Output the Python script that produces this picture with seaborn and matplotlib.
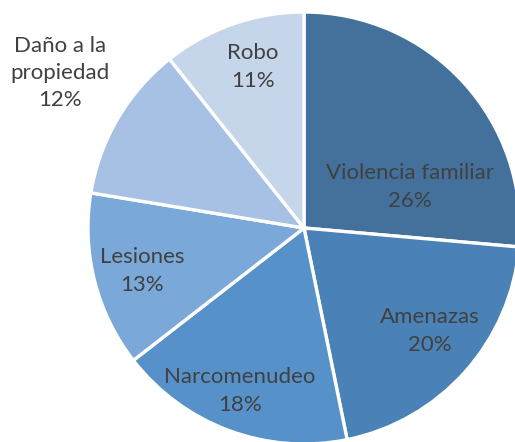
import matplotlib
matplotlib.use("Agg")
import matplotlib.pyplot as plt
import seaborn as sns

categories = ["Violencia familiar", "Amenazas", "Narcomenudeo", "Lesiones",
              "Daño a la\npropiedad", "Robo"]
values = [26.4, 20.4, 17.7, 13.1, 11.7, 10.7]
colors = ["#44719c", "#4a81b6", "#5692c9", "#7aa9d9", "#a6c1e3", "#c5d5ea"]
# label centres (pixel positions in the 515x442 image)
label_px = [(410, 187), (430, 331), (240, 391), (142, 271), (60, 73), (253, 67)]

CX, CY, R = 304, 228, 216

sns.set_theme(style="white")
plt.rcParams['font.family'] = ['Lato', 'DejaVu Sans']

fig = plt.figure(figsize=(5.15, 4.42), dpi=100)
ax = fig.add_axes([0, 0, 1, 1])
ax.pie(values, colors=colors, startangle=90, counterclock=False,
       wedgeprops=dict(edgecolor="white", linewidth=2.4), radius=1.0)
total = sum(values)
for cat, v, (px, py) in zip(categories, values, label_px):
    x, y = (px - CX) / R, (CY - py) / R
    ax.text(x, y, f"{cat}\n{round(100 * v / total)}%", ha="center", va="center",
            fontsize=16, color="#404040", linespacing=1.45)
ax.set_xlim(-CX / R, (515 - CX) / R)
ax.set_ylim(-(442 - CY) / R, CY / R)
ax.set_aspect("equal")
ax.axis("off")
fig.savefig("out.png", dpi=100)
